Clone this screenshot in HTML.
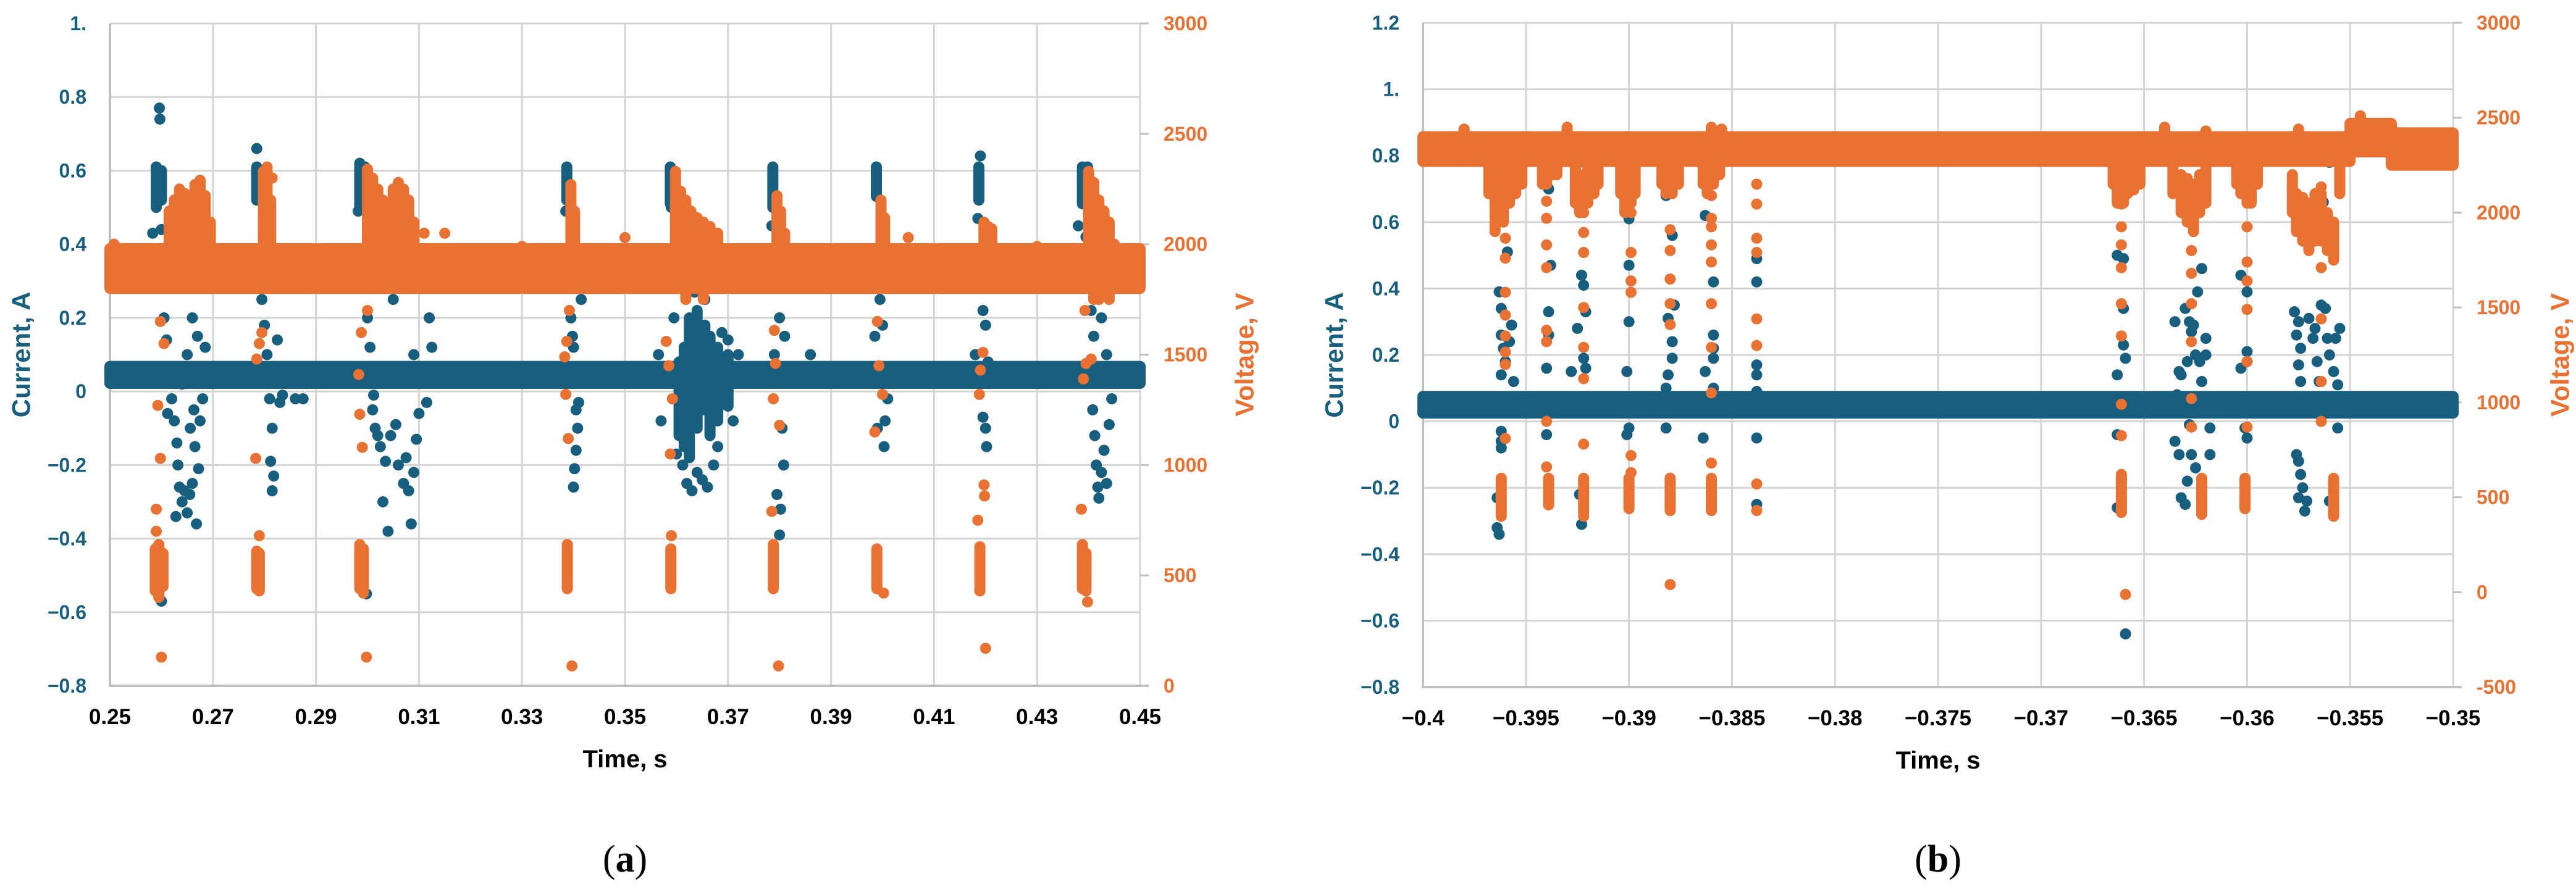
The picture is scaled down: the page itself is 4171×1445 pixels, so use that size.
<!DOCTYPE html>
<html><head><meta charset="utf-8">
<style>
html,body{margin:0;padding:0;background:#fff;}
svg{display:block;}
text{font-family:"Liberation Sans",Arial,sans-serif;}
</style></head>
<body>
<svg id="fig" width="4171" height="1445" viewBox="0 0 4171 1445" xmlns="http://www.w3.org/2000/svg">
<rect width="4171" height="1445" fill="#fff"/>
<g id="chartA"></g>
<g id="chartB"></g>
<text x="1012" y="1412" text-anchor="middle" font-size="62" style="font-family:'Liberation Serif',serif">(<tspan font-weight="bold">a</tspan>)</text>
<text x="3138" y="1412" text-anchor="middle" font-size="62" style="font-family:'Liberation Serif',serif">(<tspan font-weight="bold">b</tspan>)</text>
</svg>
<script>
// ===== Chart A data =====
const aXTicks = [0.25,0.27,0.29,0.31,0.33,0.35,0.37,0.39,0.41,0.43,0.45];
const aXLabels = ["0.25","0.27","0.29","0.31","0.33","0.35","0.37","0.39","0.41","0.43","0.45"];
const aITicks = [1.0,0.8,0.6,0.4,0.2,0,-0.2,-0.4,-0.6,-0.8];
const aILabels = ["1.","0.8","0.6","0.4","0.2","0","\u22120.2","\u22120.4","\u22120.6","\u22120.8"];
const aVTicks = [3000,2500,2000,1500,1000,500,0];
const aVLabels = ["3000","2500","2000","1500","1000","500","0"];
const aCurBands = [[0.25,0.45,0.022,0.068]];
const aCurCols = [[0.2590,0.50,0.61],[0.2600,0.52,0.60],[0.2785,0.52,0.61],[0.2985,0.50,0.62],[0.2995,0.53,0.61],[0.3387,0.52,0.61],[0.3588,0.51,0.61],[0.3787,0.50,0.61],[0.3988,0.53,0.61],[0.4187,0.52,0.61],[0.4388,0.51,0.61],[0.4398,0.55,0.61],
 [0.3605,-0.12,0.08],[0.3615,-0.15,0.12],[0.3625,-0.18,0.20],[0.3640,-0.10,0.22],[0.3655,-0.05,0.18],[0.3665,-0.12,0.15],[0.3680,-0.08,0.12],[0.3700,-0.04,0.10]];
const aCurPts = [[0.2596,0.77],[0.2597,0.74],[0.2583,0.43],[0.2600,0.44],[0.2590,0.35],[0.2605,0.20],[0.2610,0.14],[0.2615,0.05],[0.2620,-0.02],[0.2625,-0.08],[0.2630,-0.14],[0.2632,-0.20],[0.2635,-0.26],[0.2640,-0.30],[0.2628,-0.34],[0.2645,-0.27],[0.2650,-0.33],[0.2655,-0.28],[0.2660,-0.25],[0.2668,-0.36],[0.2672,-0.21],[0.2665,-0.15],[0.2675,-0.08],[0.2680,-0.02],[0.2670,0.15],[0.2660,0.20],[0.2650,0.10],[0.2640,0.02],[0.2690,0.05],[0.2685,0.12],[0.2600,-0.57],[0.2612,-0.06],[0.2656,-0.10],[0.2663,-0.05],
 [0.2785,0.66],[0.2790,0.35],[0.2795,0.25],[0.2800,0.18],[0.2805,0.10],[0.2810,-0.02],[0.2815,-0.10],[0.2812,-0.19],[0.2818,-0.23],[0.2815,-0.27],[0.2820,0.05],[0.2825,0.14],[0.2830,-0.03],[0.2835,-0.01],[0.2875,-0.02],
 [0.2982,0.49],[0.2990,0.38],[0.2995,0.30],[0.3000,0.20],[0.3005,0.12],[0.3010,-0.05],[0.3015,-0.10],[0.3020,-0.12],[0.3025,-0.15],[0.3035,-0.19],[0.3030,-0.30],[0.3040,-0.38],[0.3045,-0.12],[0.3055,-0.09],[0.3060,-0.20],[0.3070,-0.25],[0.3075,-0.18],[0.3080,-0.27],[0.3085,-0.36],[0.3090,-0.22],[0.3095,-0.13],[0.3100,-0.06],[0.3050,0.25],[0.3065,0.30],[0.3080,0.34],[0.3090,0.10],[0.3110,0.04],[0.3115,-0.03],[0.3120,0.20],[0.2998,-0.55],[0.3012,-0.01],
 [0.3385,0.49],[0.3392,0.30],[0.3395,0.20],[0.3400,0.12],[0.3405,-0.05],[0.3408,-0.10],[0.3405,-0.16],[0.3402,-0.21],[0.3400,-0.26],[0.3410,-0.03],[0.3398,0.15],[0.3378,0.03],[0.3415,0.25],
 [0.3590,0.50],[0.3595,0.20],[0.3600,0.30],[0.3612,-0.20],[0.3620,-0.25],[0.3630,-0.27],[0.3640,-0.22],[0.3650,-0.24],[0.3660,-0.26],[0.3672,-0.20],[0.3680,-0.15],[0.3688,0.16],[0.3700,0.14],[0.3710,-0.08],[0.3720,0.10],[0.3730,0.05],[0.3570,-0.08],[0.3565,0.10],[0.3635,0.27],[0.3655,0.25],[0.3600,-0.17],
 [0.3785,0.45],[0.3795,0.28],[0.3800,0.20],[0.3805,-0.10],[0.3808,-0.20],[0.3802,-0.32],[0.3800,-0.39],[0.3795,-0.28],[0.3810,0.15],[0.3790,0.10],
 [0.3995,0.25],[0.4000,0.18],[0.4005,-0.08],[0.4003,-0.15],[0.3985,0.15],[0.4010,-0.02],[0.3990,-0.10],
 [0.4190,0.64],[0.4185,0.47],[0.4195,0.22],[0.4200,0.18],[0.4200,-0.10],[0.4202,-0.15],[0.4195,-0.07],[0.4205,0.08],[0.4180,0.10],
 [0.4380,0.45],[0.4395,0.42],[0.4400,0.30],[0.4405,0.22],[0.4410,0.15],[0.4408,-0.05],[0.4412,-0.12],[0.4415,-0.20],[0.4418,-0.26],[0.4420,-0.29],[0.4425,-0.22],[0.4430,-0.16],[0.4435,-0.25],[0.4440,-0.09],[0.4445,-0.02],[0.4435,0.10],[0.4425,0.20],[0.4415,0.35],
 [0.2860,-0.02],[0.3125,0.12],[0.3530,0.05],[0.3860,0.10]];
const aVolBands = [[0.25,0.45,1800,1980]];
const aVolCols = [[0.2588,430,620],[0.2595,400,640],[0.2603,450,600],[0.2615,1900,2150],[0.2625,1950,2200],[0.2635,1950,2250],[0.2645,1900,2230],[0.2655,1950,2150],[0.2665,1950,2270],[0.2675,1900,2290],[0.2685,1900,2220],[0.2695,1850,2100],
 [0.2785,440,610],[0.2790,430,600],[0.2798,1900,2330],[0.2805,1850,2350],[0.2812,1800,2200],
 [0.2985,440,640],[0.2992,420,620],[0.3000,1950,2340],[0.3010,1950,2300],[0.3020,1900,2250],[0.3030,1950,2200],[0.3040,1900,2180],[0.3050,1900,2250],[0.3060,1950,2280],[0.3070,1900,2250],[0.3080,1900,2200],[0.3090,1850,2100],
 [0.3388,440,640],[0.3395,1900,2270],[0.3402,1800,2150],
 [0.3589,440,620],[0.3598,1800,2330],[0.3608,1800,2240],[0.3618,1750,2200],[0.3628,1800,2150],[0.3640,1800,2120],[0.3652,1750,2100],[0.3665,1800,2080],[0.3680,1800,2050],
 [0.3788,440,640],[0.3795,1900,2220],[0.3802,1850,2150],[0.3810,1900,2050],
 [0.3989,440,620],[0.3997,1900,2200],[0.4004,1850,2120],
 [0.4189,430,630],[0.4197,1900,2100],[0.4205,1900,2080],[0.4212,1900,2070],
 [0.4388,440,640],[0.4395,430,600],[0.4400,1800,2330],[0.4410,1750,2280],[0.4420,1750,2200],[0.4430,1800,2150],[0.4440,1750,2100],[0.4450,1800,2000]];
const aVolPts = [[0.2590,800],[0.2590,700],[0.2593,1270],[0.2598,1030],[0.2600,130],[0.2605,1550],[0.2598,1650],
 [0.2783,1030],[0.2785,1480],[0.2790,1550],[0.2795,1600],[0.2790,680],[0.2815,2300],
 [0.2985,1230],[0.2990,1080],[0.2998,130],[0.2983,1410],[0.2988,1600],[0.3000,1700],[0.3080,1950],[0.3110,2050],
 [0.3385,1320],[0.3390,1120],[0.3397,90],[0.3383,1490],[0.3387,1560],[0.3392,1700],
 [0.3585,1450],[0.3588,1050],[0.3592,1300],[0.3590,680],[0.3580,1560],
 [0.3785,790],[0.3790,1610],[0.3792,1460],[0.3800,1180],[0.3798,90],[0.3788,1300],
 [0.3985,1150],[0.3990,1650],[0.3993,1450],[0.4000,1320],[0.4002,420],
 [0.4185,750],[0.4190,1430],[0.4195,1510],[0.4198,860],[0.4197,910],[0.4200,170],[0.4188,1320],
 [0.4386,800],[0.4390,1390],[0.4395,1460],[0.4398,380],[0.4393,1700],[0.4405,1480],
 [0.2508,2000],[0.2850,1950],[0.3150,2050],[0.3300,1990],[0.3500,2030],[0.4050,2030],[0.4300,1990]];

// ===== Chart B data =====
const bXTicks = [-0.4,-0.395,-0.39,-0.385,-0.38,-0.375,-0.37,-0.365,-0.36,-0.355,-0.35];
const bXLabels = ["\u22120.4","\u22120.395","\u22120.39","\u22120.385","\u22120.38","\u22120.375","\u22120.37","\u22120.365","\u22120.36","\u22120.355","\u22120.35"];
const bITicks = [1.2,1.0,0.8,0.6,0.4,0.2,0,-0.2,-0.4,-0.6,-0.8];
const bILabels = ["1.2","1.","0.8","0.6","0.4","0.2","0","\u22120.2","\u22120.4","\u22120.6","\u22120.8"];
const bVTicks = [3000,2500,2000,1500,1000,500,0,-500];
const bVLabels = ["3000","2500","2000","1500","1000","500","0","-500"];
const bCurBands = [[-0.4,-0.35,0.025,0.075]];
const bCurCols = [[-0.3962,0.72,0.81],[-0.3661,0.72,0.81]];
const bCurPts = [[-0.3963,0.39],[-0.3962,0.34],[-0.3962,0.26],[-0.3961,0.22],[-0.3960,0.18],[-0.3962,0.14],[-0.3959,0.51],[-0.3958,0.68],[-0.3962,-0.03],[-0.3962,-0.06],[-0.3962,-0.08],[-0.3964,-0.23],[-0.3964,-0.32],[-0.3963,-0.34],[-0.3957,0.79],[-0.3958,0.24],[-0.3957,0.29],[-0.3956,0.12],
 [-0.3939,0.33],[-0.3939,0.26],[-0.3940,0.16],[-0.3940,-0.04],[-0.3939,0.70],[-0.3938,0.47],[-0.3940,0.78],
 [-0.3925,0.28],[-0.3923,0.44],[-0.3923,0.72],[-0.3922,0.41],[-0.3921,0.33],[-0.3922,0.19],[-0.3921,0.16],[-0.3924,-0.22],[-0.3923,-0.31],[-0.3928,0.15],[-0.3922,0.78],
 [-0.3900,0.47],[-0.3900,0.30],[-0.3901,0.15],[-0.3901,-0.04],[-0.3900,0.61],[-0.3899,0.77],[-0.3900,-0.02],
 [-0.3882,0.68],[-0.3879,0.56],[-0.3881,0.31],[-0.3879,0.24],[-0.3879,0.19],[-0.3881,0.14],[-0.3882,-0.02],[-0.3878,0.35],[-0.3882,0.10],[-0.3880,0.79],
 [-0.3863,0.62],[-0.3859,0.42],[-0.3859,0.26],[-0.3859,0.22],[-0.3863,0.15],[-0.3859,0.10],[-0.3864,-0.05],[-0.3859,0.19],[-0.3860,0.79],
 [-0.3838,0.49],[-0.3838,0.42],[-0.3838,0.17],[-0.3838,0.14],[-0.3838,0.09],[-0.3838,-0.05],[-0.3838,-0.25],
 [-0.3661,0.80],[-0.3663,0.70],[-0.3663,0.50],[-0.3660,0.49],[-0.3660,0.34],[-0.3660,0.23],[-0.3659,0.19],[-0.3663,0.14],[-0.3663,-0.04],[-0.3663,-0.26],[-0.3659,-0.64],
 [-0.3635,0.30],[-0.3633,0.15],[-0.3634,0.08],[-0.3635,-0.06],[-0.3632,-0.23],[-0.3630,0.34],[-0.3628,0.30],[-0.3627,0.27],[-0.3629,0.18],[-0.3628,-0.01],[-0.3627,-0.10],[-0.3629,-0.18],[-0.3630,-0.25],[-0.3626,0.29],[-0.3625,0.20],[-0.3624,0.39],[-0.3623,0.18],[-0.3625,-0.14],[-0.3622,0.12],[-0.3622,0.46],[-0.3620,0.25],[-0.3620,0.20],[-0.3618,-0.02],[-0.3618,-0.10],[-0.3620,0.78],[-0.3632,0.14],[-0.3633,-0.10],
 [-0.3603,0.44],[-0.3600,0.39],[-0.3600,0.21],[-0.3603,0.16],[-0.3602,0.06],[-0.3601,-0.02],[-0.3600,0.18],[-0.3603,0.74],[-0.3600,-0.05],
 [-0.3577,0.33],[-0.3575,0.30],[-0.3576,0.26],[-0.3574,0.22],[-0.3575,0.17],[-0.3574,0.12],[-0.3576,-0.10],[-0.3575,-0.12],[-0.3574,-0.16],[-0.3573,-0.20],[-0.3575,-0.23],[-0.3572,-0.27],[-0.3571,-0.24],[-0.3570,0.31],[-0.3568,0.25],[-0.3567,0.28],[-0.3566,0.18],[-0.3565,0.12],[-0.3564,0.35],[-0.3562,0.34],[-0.3561,0.25],[-0.3560,0.20],[-0.3560,-0.24],[-0.3558,0.15],[-0.3557,0.25],[-0.3556,0.11],[-0.3555,0.28],[-0.3563,0.66],[-0.3560,0.78],[-0.3556,-0.02]];
const bVolBands = [[-0.4,-0.355,2270,2400],[-0.3550,-0.3530,2320,2470],[-0.3530,-0.350,2250,2420]];
const bVolCols = [[-0.3962,400,600],[-0.3939,460,600],[-0.3922,420,600],[-0.3900,440,600],[-0.3880,430,600],[-0.3860,430,600],[-0.3661,420,620],[-0.3622,410,600],[-0.3601,440,600],[-0.3558,400,600],
 [-0.3968,2100,2300],[-0.3965,1900,2250],[-0.3961,1950,2250],[-0.3958,2050,2250],[-0.3955,2100,2280],[-0.3952,2150,2300],[-0.3942,2150,2300],[-0.3940,2150,2300],[-0.3937,2200,2320],[-0.3935,2200,2350],[-0.3926,2050,2250],[-0.3924,2000,2200],[-0.3920,2050,2280],[-0.3917,2100,2300],[-0.3915,2150,2330],[-0.3904,2100,2250],[-0.3902,2000,2250],[-0.3899,2050,2280],[-0.3897,2100,2300],[-0.3884,2150,2280],[-0.3882,2100,2250],[-0.3879,2100,2270],[-0.3876,2150,2300],[-0.3864,2150,2280],[-0.3862,2100,2250],[-0.3859,2150,2300],[-0.3856,2200,2350],
 [-0.3665,2150,2300],[-0.3663,2050,2300],[-0.3660,2050,2250],[-0.3658,2100,2250],[-0.3655,2120,2300],[-0.3652,2150,2320],[-0.3636,2100,2280],[-0.3632,2000,2200],[-0.3629,1950,2180],[-0.3626,1900,2150],[-0.3623,2000,2200],[-0.3620,2050,2250],[-0.3605,2150,2300],[-0.3603,2100,2300],[-0.3600,2050,2250],[-0.3598,2050,2250],[-0.3595,2150,2300],[-0.3578,2000,2200],[-0.3576,1900,2100],[-0.3573,1850,2080],[-0.3570,1800,2050],[-0.3567,1850,2100],[-0.3564,1850,2100],[-0.3561,1800,2000],[-0.3558,1750,1950],[-0.3555,2100,2250],
 [-0.3980,2280,2440],[-0.3930,2280,2450],[-0.3860,2300,2450],[-0.3855,2300,2440],[-0.3640,2300,2450],[-0.3620,2280,2430],[-0.3575,2300,2440],[-0.3545,2350,2510]];
const bVolPts = [[-0.3960,1865],[-0.3960,1760],[-0.3960,1580],[-0.3960,1460],[-0.3960,1350],[-0.3960,1265],[-0.3960,1200],[-0.3960,810],
 [-0.3940,2060],[-0.3940,1970],[-0.3940,1830],[-0.3940,1710],[-0.3940,1380],[-0.3940,900],[-0.3940,660],[-0.3940,1320],
 [-0.3922,2090],[-0.3922,2000],[-0.3922,1895],[-0.3922,1790],[-0.3922,1500],[-0.3922,1290],[-0.3922,1125],[-0.3922,780],[-0.3922,400],
 [-0.3899,2000],[-0.3899,1790],[-0.3899,1640],[-0.3899,1580],[-0.3899,720],[-0.3899,630],
 [-0.3880,1910],[-0.3880,1800],[-0.3880,1650],[-0.3880,1520],[-0.3880,1410],[-0.3880,40],[-0.3880,600],
 [-0.3860,2090],[-0.3860,1970],[-0.3860,1925],[-0.3860,1830],[-0.3860,1740],[-0.3860,1520],[-0.3860,1290],[-0.3860,1050],[-0.3860,680],
 [-0.3838,2150],[-0.3838,2045],[-0.3838,1865],[-0.3838,1790],[-0.3838,1440],[-0.3838,1300],[-0.3838,570],[-0.3838,430],
 [-0.3661,2045],[-0.3661,1925],[-0.3661,1830],[-0.3661,1710],[-0.3661,1520],[-0.3661,1350],[-0.3661,990],[-0.3661,825],[-0.3659,-12],
 [-0.3627,2150],[-0.3627,2030],[-0.3627,1800],[-0.3627,1680],[-0.3627,1520],[-0.3627,1320],[-0.3627,1020],[-0.3627,870],
 [-0.3600,2090],[-0.3600,1925],[-0.3600,1740],[-0.3600,1640],[-0.3600,1490],[-0.3600,1215],[-0.3600,870],
 [-0.3564,2135],[-0.3564,2075],[-0.3564,1985],[-0.3564,1865],[-0.3564,1710],[-0.3564,1440],[-0.3564,1110],[-0.3564,900]];

const BLUE = "#175E7F", ORANGE = "#E97132", R = 9;
const NS = "http://www.w3.org/2000/svg";
function mk(tag, attrs, parent){
  const e = document.createElementNS(NS, tag);
  for (const k in attrs) e.setAttribute(k, attrs[k]);
  parent.appendChild(e);
  return e;
}

function drawChart(g, cfg, d){
  const sx = t => cfg.x0 + (t - cfg.tMin) / (cfg.tMax - cfg.tMin) * (cfg.x1 - cfg.x0);
  const sI = v => cfg.y1 - (v - cfg.iMin) / (cfg.iMax - cfg.iMin) * (cfg.y1 - cfg.y0);
  const sV = v => cfg.y1 - (v - cfg.vMin) / (cfg.vMax - cfg.vMin) * (cfg.y1 - cfg.y0);
  d.xTicks.forEach((t) => {
    const ln = mk('line', {x1: sx(t), x2: sx(t), y1: cfg.y0, y2: cfg.y1, stroke: '#d4d4d4', 'stroke-width': 3}, g);
    
    
  });
  d.iTicks.forEach((v) => {
    const ln = mk('line', {x1: cfg.x0, x2: cfg.x1, y1: sI(v), y2: sI(v), stroke: '#d4d4d4', 'stroke-width': 3}, g);
    
    
  });
  const ax = mk('path', {d: `M${cfg.x0},${cfg.y0} V${cfg.y1} H${cfg.x1 + 14}`, stroke: '#bfbfbf', 'stroke-width': 4, fill: 'none'}, g);
  
  
  d.vTicks.forEach((v) => {
    const tk = mk('line', {x1: cfg.x1, x2: cfg.x1 + 14, y1: sV(v), y2: sV(v), stroke: '#bfbfbf', 'stroke-width': 3}, g);
    
    
  });
  const layers = [
    [BLUE, d.curBands, d.curCols, d.curPts, sI, 'current'],
    [ORANGE, d.volBands, d.volCols, d.volPts, sV, 'voltage']
  ];
  layers.forEach(([col, bands, cols, pts, sy, nm]) => {
    const sg = mk('g', {fill: col}, g);
    
    
    bands.forEach(b => {
      const r = mk('rect', {x: sx(b[0]) - R, y: sy(b[3]) - R, width: sx(b[1]) - sx(b[0]) + 2*R, height: sy(b[2]) - sy(b[3]) + 2*R, rx: R}, sg);
      
      
    });
    cols.forEach(c => {
      const r = mk('rect', {x: sx(c[0]) - R, y: sy(c[2]) - R, width: 2*R, height: sy(c[1]) - sy(c[2]) + 2*R, rx: R}, sg);
      
      
    });
    pts.forEach(p => {
      const c = mk('circle', {cx: sx(p[0]), cy: sy(p[1]), r: R}, sg);
      
      
    });
  });
  d.xTicks.forEach((t, i) => {
    const tx = mk('text', {x: sx(t), y: cfg.y1 + 62, 'text-anchor': 'middle', 'font-size': 35, 'font-weight': 'bold', fill: '#000'}, g);
    tx.textContent = d.xLabels[i];
    
    
  });
  d.iTicks.forEach((v, i) => {
    const tx = mk('text', {x: cfg.x0 - 38, y: sI(v) + 11, 'text-anchor': 'end', 'font-size': 32, 'font-weight': 'bold', fill: BLUE}, g);
    tx.textContent = d.iLabels[i];
    
    
  });
  d.vTicks.forEach((v, i) => {
    const tx = mk('text', {x: cfg.x1 + 38, y: sV(v) + 11, 'text-anchor': 'start', 'font-size': 32, 'font-weight': 'bold', fill: ORANGE}, g);
    tx.textContent = d.vLabels[i];
    
    
  });
  const cy = (cfg.y0 + cfg.y1) / 2;
  const t1 = mk('text', {x: cfg.ltx, y: cy, transform: `rotate(-90 ${cfg.ltx} ${cy})`, 'text-anchor': 'middle', 'dominant-baseline': 'central', 'font-size': 42, 'font-weight': 'bold', fill: BLUE}, g);
  t1.textContent = 'Current, A';
  
  
  const t2 = mk('text', {x: cfg.rtx, y: cy, transform: `rotate(-90 ${cfg.rtx} ${cy})`, 'text-anchor': 'middle', 'dominant-baseline': 'central', 'font-size': 42, 'font-weight': 'bold', fill: ORANGE}, g);
  t2.textContent = 'Voltage, V';
  
  
  const t3 = mk('text', {x: (cfg.x0 + cfg.x1) / 2, y: cfg.y1 + 132, 'text-anchor': 'middle', 'font-size': 40, 'font-weight': 'bold', fill: '#000'}, g);
  t3.textContent = 'Time, s';
  
  
}

drawChart(document.getElementById('chartA'),
  {x0:178, x1:1846, y0:38, y1:1111, tMin:0.25, tMax:0.45, iMin:-0.8, iMax:1.0, vMin:0, vMax:3000, ltx:34, rtx:2015},
  {xTicks:aXTicks, xLabels:aXLabels, iTicks:aITicks, iLabels:aILabels, vTicks:aVTicks, vLabels:aVLabels,
   curBands:aCurBands, curCols:aCurCols, curPts:aCurPts, volBands:aVolBands, volCols:aVolCols, volPts:aVolPts});
drawChart(document.getElementById('chartB'),
  {x0:2304, x1:3972, y0:37, y1:1113, tMin:-0.4, tMax:-0.35, iMin:-0.8, iMax:1.2, vMin:-500, vMax:3000, ltx:2160, rtx:4145},
  {xTicks:bXTicks, xLabels:bXLabels, iTicks:bITicks, iLabels:bILabels, vTicks:bVTicks, vLabels:bVLabels,
   curBands:bCurBands, curCols:bCurCols, curPts:bCurPts, volBands:bVolBands, volCols:bVolCols, volPts:bVolPts});
</script>
</body></html>
